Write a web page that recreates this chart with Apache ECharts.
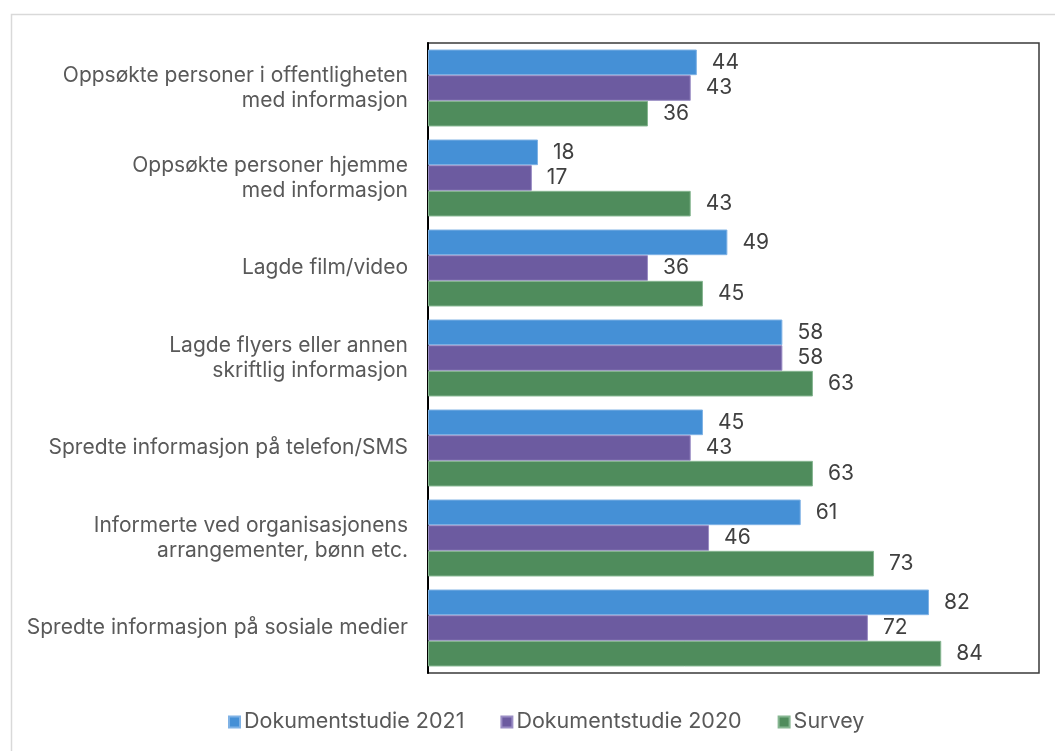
<!DOCTYPE html>
<html>
<head>
<meta charset="utf-8">
<script src="https://cdn.jsdelivr.net/npm/echarts@6/dist/echarts.min.js"></script>
<style>
html,body{margin:0;padding:0;background:#fff;}
#chart{width:1055px;height:751px;}
</style>
</head>
<body>
<div id="chart"></div>
<script>
const categories = [
  "Oppsøkte personer i offentligheten\nmed informasjon",
  "Oppsøkte personer hjemme\nmed informasjon",
  "Lagde film/video",
  "Lagde flyers eller annen\nskriftlig informasjon",
  "Spredte informasjon på telefon/SMS",
  "Informerte ved organisasjonens\narrangementer, bønn etc.",
  "Spredte informasjon på sosiale medier"
];
const seriesNames = ["Dokumentstudie 2021", "Dokumentstudie 2020", "Survey"];
const dok2021 = [44, 18, 49, 58, 45, 61, 82];
const dok2020 = [43, 17, 36, 58, 43, 46, 72];
const survey = [36, 43, 45, 63, 63, 73, 84];
const colors = ["#4590D6", "#6C5BA0", "#4F8C5C"];
const borderColors = ["#7FB2E5", "#9A8DC4", "#86B691"];

const FONT = "Inter";
const chart = echarts.init(document.getElementById('chart'));
const mk = (name, data, i) => ({
  name: name,
  type: 'bar',
  data: data,
  barGap: '0%',
  barCategoryGap: '14.5%',
  itemStyle: { color: colors[i], borderColor: borderColors[i], borderWidth: 1 },
  label: {
    show: true, position: 'right', distance: 15,
    color: '#404040', fontSize: 21, fontFamily: FONT
  },
  emphasis: { disabled: true },
  animation: false
});
chart.setOption({
  animation: false,
  graphic: [{
    type: 'rect', left: 9, top: 12, silent: true,
    shape: { width: 1100, height: 800 },
    style: { fill: 'none', stroke: '#d9d9d9', lineWidth: 1.5 }
  }],
  grid: {
    left: 428, top: 43, right: 16, bottom: 78,
    show: true, borderColor: '#3a3a3a', borderWidth: 1.5, backgroundColor: 'transparent',
    containLabel: false
  },
  legend: {
    bottom: 13, left: 223,
    itemWidth: 11, itemHeight: 11, itemGap: 36,
    icon: 'rect',
    textStyle: { color: '#595959', fontSize: 21.5, fontFamily: FONT, padding: [0,0,0,-1] },
    data: seriesNames
  },
  xAxis: {
    type: 'value', min: 0, max: 100,
    axisLabel: { show: false }, splitLine: { show: false },
    axisLine: { show: false }, axisTick: { show: false }
  },
  yAxis: {
    type: 'category', data: categories, inverse: true,
    axisLine: { show: true, lineStyle: { color: '#000', width: 2 } },
    axisTick: { show: false },
    axisLabel: {
      color: '#595959', fontSize: 21, fontFamily: FONT, margin: 20,
      lineHeight: 25, align: 'right'
    }
  },
  series: [
    mk(seriesNames[0], dok2021, 0),
    mk(seriesNames[1], dok2020, 1),
    mk(seriesNames[2], survey, 2)
  ]
});
</script>
</body>
</html>
